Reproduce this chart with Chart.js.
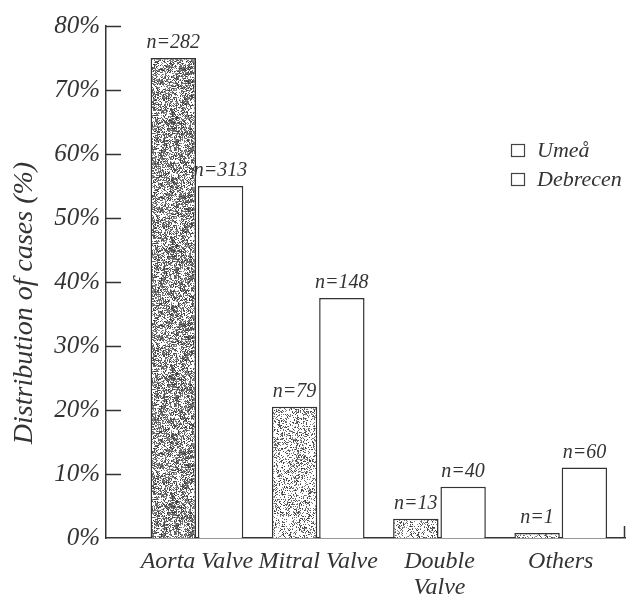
<!DOCTYPE html>
<html><head><meta charset="utf-8">
<script src="https://cdn.jsdelivr.net/npm/chart.js@4/dist/chart.umd.min.js"></script>
<style>html,body{margin:0;padding:0;background:#fff}#wrap{width:632px;height:605px}</style>
</head><body><div id="wrap"><canvas id="c" width="632" height="605"></canvas></div>
<script>
// ---- data ----
const categories = ['Aorta Valve', 'Mitral Valve', ['Double', 'Valve'], 'Others'];
const catPositions = [1, 2, 3, 4];
const seriesNames = ['Umeå', 'Debrecen'];
const umeaValues = [75, 20.5, 3, 0.8];
const debrecenValues = [55, 37.5, 8, 11];
const umeaCounts = ['n=282', 'n=79', 'n=13', 'n=1'];
const debrecenCounts = ['n=313', 'n=148', 'n=40', 'n=60'];
const yTicks = [0, 10, 20, 30, 40, 50, 60, 70, 80];
const yTitle = 'Distribution of cases (%)';

// ---- styling ----
const FONT = "'Liberation Serif', 'Times New Roman', serif";
const INK = '#333333';

function hash(x, y, s) {
  let n = Math.imul(x, 374761393) + Math.imul(y, 668265263) + Math.imul(s, 1442695041);
  n = Math.imul(n ^ (n >>> 13), 1274126177);
  n = n ^ (n >>> 16);
  return (n >>> 0) / 4294967296;
}
function makeStipple(density, seed) {
  const S = 128;
  const cv = document.createElement('canvas');
  cv.width = S; cv.height = S;
  const g = cv.getContext('2d');
  const img = g.createImageData(S, S);
  for (let y = 0; y < S; y++) {
    for (let x = 0; x < S; x++) {
      const blob = hash(Math.floor((x + (y % 3)) / 4), Math.floor((y + (x % 2)) / 5), seed + 7);
      const h = hash(x, y, seed);
      const p = density * (0.55 + blob * 0.9);
      const i = (y * S + x) * 4;
      let v = 255;
      if (h < p) v = 50 + Math.floor(hash(x, y, seed + 3) * 100);
      img.data[i] = v; img.data[i + 1] = v; img.data[i + 2] = v; img.data[i + 3] = 255;
    }
  }
  g.putImageData(img, 0, 0);
  return document.getElementById('c').getContext('2d').createPattern(cv, 'repeat');
}
const denseStipple = makeStipple(0.55, 11);
const lightStipple = makeStipple(0.3, 23);

const decor = {
  id: 'decor',
  afterDraw(chart) {
    const ctx = chart.ctx;
    const ys = chart.scales.y;
    const a = chart.chartArea;
    ctx.save();
    ctx.strokeStyle = INK;
    ctx.lineWidth = 1.5;
    // inward tick marks on y axis
    ys.ticks.forEach(t => {
      if (t.value === 0) return;
      const py = Math.round(ys.getPixelForValue(t.value)) + 0.5;
      ctx.beginPath(); ctx.moveTo(a.left, py); ctx.lineTo(a.left + 15, py); ctx.stroke();
    });
    // small end tick on x axis
    ctx.beginPath(); ctx.moveTo(a.right - 0.5, a.bottom); ctx.lineTo(a.right - 0.5, a.bottom - 12); ctx.stroke();
    // count labels above bars
    ctx.fillStyle = INK;
    ctx.font = 'italic 20px ' + FONT;
    ctx.textAlign = 'center';
    ctx.textBaseline = 'alphabetic';
    chart.data.datasets.forEach((ds, di) => {
      const meta = chart.getDatasetMeta(di);
      meta.data.forEach((bar, i) => {
        ctx.fillText(ds.counts[i], bar.x, bar.y - 10);
      });
    });
    // legend
    ctx.font = 'italic 22px ' + FONT;
    ctx.textAlign = 'left';
    chart.data.datasets.forEach((ds, di) => {
      const base = 157 + di * 29;
      ctx.lineWidth = 1.2;
      ctx.strokeStyle = '#444';
      ctx.strokeRect(511.5, base - 12.5, 13, 12);
      ctx.fillText(ds.label, 537, base);
    });
    ctx.restore();
  }
};

new Chart(document.getElementById('c'), {
  type: 'bar',
  data: {
    datasets: [
      {
        label: seriesNames[0],
        data: catPositions.map((x, i) => ({ x, y: umeaValues[i] })),
        backgroundColor: [denseStipple, lightStipple, lightStipple, lightStipple],
        borderColor: INK, borderWidth: 1.5,
        categoryPercentage: 0.78, barPercentage: 0.96,
        counts: umeaCounts
      },
      {
        label: seriesNames[1],
        data: catPositions.map((x, i) => ({ x, y: debrecenValues[i] })),
        backgroundColor: '#ffffff',
        borderColor: INK, borderWidth: 1.5,
        categoryPercentage: 0.78, barPercentage: 0.96,
        counts: debrecenCounts
      }
    ]
  },
  options: {
    responsive: false,
    animation: false,
    devicePixelRatio: 1,
    layout: { padding: { top: 26, right: 7, left: 0, bottom: 0 } },
    plugins: { legend: { display: false }, tooltip: { enabled: false } },
    scales: {
      x: {
        type: 'linear', min: 0.25, max: 4.53, offset: false,
        afterBuildTicks: s => { s.ticks = catPositions.map(v => ({ value: v })); },
        afterFit: s => { s.height = 67; },
        ticks: {
          callback: v => categories[catPositions.indexOf(v)],
          font: { family: FONT, size: 24, style: 'italic', lineHeight: 1.1 },
          color: INK, padding: 10, maxRotation: 0, autoSkip: false
        },
        grid: { display: false, drawTicks: false },
        border: { display: true, color: INK, width: 1.5 }
      },
      y: {
        min: 0, max: 80,
        afterBuildTicks: s => { s.ticks = yTicks.map(v => ({ value: v })); },
        afterFit: s => { s.width = 106; },
        ticks: {
          callback: v => v + '%',
          font: { family: FONT, size: 25, style: 'italic' },
          color: INK, padding: 6
        },
        grid: { display: false, drawTicks: false },
        border: { display: true, color: INK, width: 1.5 },
        title: {
          display: true,
          text: yTitle + '\u00a0\u00a0\u00a0\u00a0\u00a0\u00a0',
          font: { family: FONT, size: 28, style: 'italic' },
          color: INK,
          padding: { top: 8, bottom: 0 }
        }
      }
    }
  },
  plugins: [decor]
});
</script>
</body></html>
